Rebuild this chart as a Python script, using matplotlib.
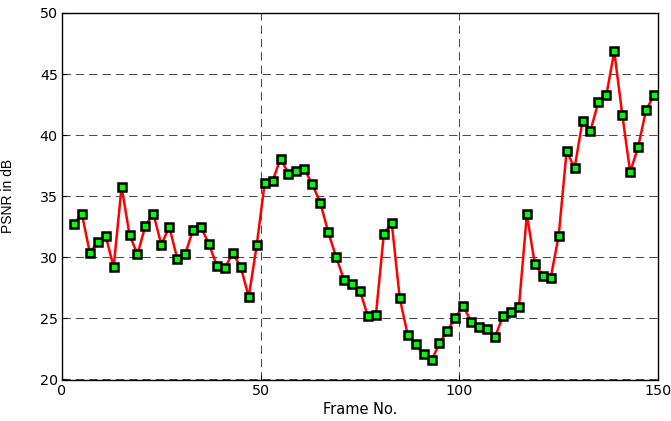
import matplotlib
matplotlib.use("Agg")
import matplotlib.pyplot as plt
import numpy as np

frames = list(range(3, 150, 2))
psnr = [32.73, 33.57, 30.38, 31.23, 31.75, 29.2, 35.79, 31.83, 30.24, 32.6,
        33.57, 31.03, 32.5, 29.9, 30.27, 32.27, 32.46, 31.07, 29.29, 29.15,
        30.35, 29.2, 26.75, 30.97, 36.07,
        36.25, 38.08, 36.85, 37.1, 37.21, 35.98, 34.48, 32.07, 30.01,
        28.14, 27.81, 27.24, 25.16, 25.25, 31.93, 32.79, 26.66, 23.66, 22.89,
        22.07, 21.56, 22.95, 24.0, 25.07, 26.02,
        24.7, 24.29, 24.12, 23.5, 25.19, 25.49, 25.95, 33.52, 29.45, 28.49,
        28.33, 31.75,
        38.69, 37.3, 41.15, 40.35, 42.73, 43.28, 46.85, 41.69, 36.97, 39.04,
        42.05, 43.28]

xticks = [0, 50, 100, 150]
yticks = [20, 25, 30, 35, 40, 45, 50]

plt.rcParams['font.family'] = ['DejaVu Sans']
plt.rcParams['lines.scale_dashes'] = False

fig = plt.figure(figsize=(6.71, 4.21), dpi=100)
ax = fig.add_axes([62/671, 1 - 379.5/421, (658 - 62)/671, (379.5 - 13)/421])

ax.plot(frames, psnr, color='red', linewidth=1.8, marker='s', markersize=5.6,
        markerfacecolor='#00ff00', markeredgecolor='black', markeredgewidth=1.8,
        zorder=3)

ax.set_xlim(0, 150)
ax.set_ylim(20, 50)
ax.set_xticks(xticks)
ax.set_yticks(yticks)
ax.tick_params(direction='in', labelsize=10.3, length=3.5, width=0.8,
               top=False, right=False, pad=3)
ax.grid(True, color='black', linestyle=(0, (6, 3.6)), linewidth=0.75, alpha=0.7)
for s in ax.spines.values():
    s.set_linewidth(1.0)
ax.set_xlabel('Frame No.', fontsize=10.5, labelpad=3)
ax.set_ylabel('PSNR in dB', fontsize=10, family=['Liberation Sans'], labelpad=18)

fig.savefig('out.png', dpi=100)
